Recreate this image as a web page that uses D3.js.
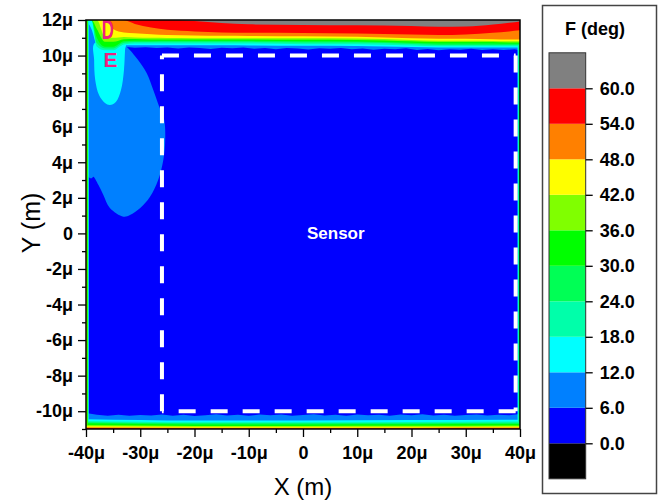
<!DOCTYPE html>
<html>
<head>
<meta charset="utf-8">
<script src="https://cdn.jsdelivr.net/npm/d3@7"></script>
<style>
  body { margin: 0; background: #fff; }
  text { font-family: "Liberation Sans", Arial, sans-serif; }
</style>
</head>
<body>
<div id="chart"></div>
<script>
// contour levels (deg) and band colours, lowest band first
var levels = [0, 6, 12, 18, 24, 30, 36, 42, 48, 54, 60];
var bandColors = ["#000000", "#0000ff", "#0080ff", "#00ffff", "#00ffaa", "#00ff55",
                  "#00ff00", "#80ff00", "#ffff00", "#ff8000", "#ff0000", "#808080"];

// top boundary layer: y (um) where the angle crosses each level
var topX  = [-40, -39, -38, -36.5, -35, -33, -31, -28, -25, -20, -15, -10, 0, 10, 20, 25, 30, 35, 38, 40];
var top12 = [12, 11.5, 10.6, 10.35, 10.3, 10.58, 10.58, 10.58, 10.58, 10.58, 10.58, 10.57, 10.55, 10.54, 10.48, 10.45, 10.45, 10.45, 10.45, 10.45];
var top18 = [12, 12, 10.5, 10.3, 10.3, 10.62, 10.68, 10.68, 10.68, 10.68, 10.68, 10.68, 10.64, 10.63, 10.57, 10.53, 10.53, 10.53, 10.53, 10.53];
var top24 = [12, 12, 10.7, 10.4, 10.4, 10.72, 10.76, 10.76, 10.77, 10.77, 10.77, 10.77, 10.74, 10.73, 10.65, 10.6, 10.6, 10.6, 10.6, 10.6];
var top30 = [12, 12, 11.0, 10.5, 10.5, 10.8, 10.84, 10.84, 10.84, 10.84, 10.84, 10.84, 10.8, 10.79, 10.72, 10.68, 10.68, 10.68, 10.66, 10.66];
var top36 = [12, 12, 11.5, 10.77, 10.77, 10.92, 10.93, 10.91, 10.91, 10.91, 10.91, 10.91, 10.89, 10.88, 10.8, 10.76, 10.76, 10.76, 10.74, 10.74];
var top42 = [12, 12, 12, 11.05, 11.0, 11.05, 11.02, 11.0, 10.99, 10.98, 10.97, 10.97, 10.97, 10.96, 10.88, 10.84, 10.83, 10.82, 10.8, 10.8];
var top48 = [12, 12, 12, 12, 11.5, 11.3, 11.25, 11.2, 11.16, 11.13, 11.11, 11.1, 11.08, 11.06, 10.98, 10.95, 10.94, 10.92, 10.9, 10.9];
var top54 = [12, 12, 12, 12, 12, 11.98, 11.78, 11.58, 11.45, 11.36, 11.3, 11.28, 11.27, 11.24, 11.18, 11.15, 11.18, 11.28, 11.36, 11.42];
var top60 = [12, 12, 12, 12, 12, 12, 12, 12, 12, 11.95, 11.83, 11.76, 11.72, 11.7, 11.66, 11.62, 11.64, 11.75, 11.85, 11.92];

// ragged 6 deg edge at the top
var edge6TopX = [-40, -33, -31, -29, -27, -25, -23, -21, -19, -17, -15, -13, -11, -9, -7, -5, -3, -1, 1, 3, 5, 7, 9, 11, 13, 15, 17, 19, 21, 23, 25, 27, 29, 31, 33, 35, 37, 39, 40];
var edge6Top  = [10.5, 10.5, 10.44, 10.47, 10.42, 10.46, 10.4, 10.45, 10.43, 10.37, 10.44, 10.41, 10.46, 10.38, 10.43, 10.36, 10.42, 10.4, 10.34, 10.41, 10.38, 10.43, 10.36, 10.4, 10.33, 10.39, 10.35, 10.41, 10.32, 10.37, 10.3, 10.36, 10.33, 10.38, 10.31, 10.36, 10.32, 10.35, 10.3];

// bottom boundary layer
var edge6BotX = [-40, -38, -36, -34, -32, -30, -28, -26, -24, -22, -20, -18, -16, -14, -12, -10, -8, -6, -4, -2, 0, 2, 4, 6, 8, 10, 12, 14, 16, 18, 20, 22, 24, 26, 28, 30, 32, 34, 36, 38, 40];
var edge6Bot  = [-10.1, -10.2, -10.25, -10.2, -10.26, -10.21, -10.24, -10.18, -10.25, -10.2, -10.27, -10.22, -10.17, -10.24, -10.2, -10.26, -10.19, -10.23, -10.18, -10.25, -10.21, -10.17, -10.24, -10.2, -10.26, -10.18, -10.23, -10.2, -10.25, -10.19, -10.22, -10.17, -10.24, -10.2, -10.26, -10.21, -10.18, -10.24, -10.2, -10.22, -10.15];
var botX  = [-40, -20, 0, 20, 40];
var bot12 = [-10.45, -10.52, -10.52, -10.5, -10.48];
var bot18 = [-10.55, -10.62, -10.62, -10.6, -10.58];
var bot24 = [-10.62, -10.68, -10.68, -10.67, -10.65];
var bot30 = [-10.68, -10.74, -10.74, -10.73, -10.72];
var bot36 = [-10.78, -10.83, -10.83, -10.82, -10.8];
var bot42 = [-10.85, -10.88, -10.88, -10.88, -10.86];
var bot48 = [-10.9, -10.93, -10.93, -10.93, -10.92];
var bot54 = [-10.94, -10.97, -10.97, -10.97, -10.96];

// plume on the left side: 6 deg and 12 deg outlines (x, y in um)
var plume6 = [[-39.6, 10.7], [-39.6, 3.2], [-38.95, 3.1], [-38.65, 3.19], [-37.7, 2.72], [-36.8, 2.16],
              [-35.6, 1.43], [-33.1, 0.94], [-31.9, 1.03], [-30.0, 1.43], [-28.2, 2.06], [-26.7, 3.0],
              [-25.75, 4.13], [-25.4, 5.25], [-25.6, 6.4], [-26.5, 7.12], [-27.6, 8.06], [-28.8, 9.0],
              [-30.4, 9.75], [-32.5, 10.5], [-33.5, 10.7]];
var plume12 = [[-38.4, 10.7], [-38.5, 9.75], [-38.3, 8.63], [-37.6, 7.78], [-36.5, 7.33], [-35.6, 7.22],
               [-34.5, 7.39], [-33.55, 8.06], [-33.0, 9.19], [-32.8, 10.31], [-32.7, 10.7]];

// thin stripes along the left and right walls
var leftEdgeLevels = [12, 18, 30, 36];
var leftEdgeX = [-39.5, -39.56, -39.64, -39.76];
var rightEdgeLevels = [12, 18, 24];
var rightEdgeX = [39.55, 39.65, 39.8];

// axes and annotations
var xTicks = [-40, -30, -20, -10, 0, 10, 20, 30, 40];
var yTicks = [-10, -8, -6, -4, -2, 0, 2, 4, 6, 8, 10, 12];
var sensorX = [-26, 39.2], sensorY = [-10, 10];
var labelD = [-36.0, 11.5], labelE = [-35.5, 9.8];

var topBounds = [top12, top18, top24, top30, top36, top42, top48, top54, top60];
var botBounds = [bot12, bot18, bot24, bot30, bot36, bot42, bot48, bot54];

var svg = d3.select("#chart").append("svg")
    .attr("width", 663).attr("height", 502);

var x = d3.scaleLinear().domain([-40, 40]).range([86, 520]);
var y = d3.scaleLinear().domain([-11, 12]).range([429, 20]);

svg.append("clipPath").attr("id", "plotClip")
  .append("rect")
    .attr("x", x(-40)).attr("y", y(12))
    .attr("width", x(40) - x(-40)).attr("height", y(-11) - y(12));

var plot = svg.append("g").attr("clip-path", "url(#plotClip)");

function colorAbove(lv) { return bandColors[levels.indexOf(lv) + 1]; }

var topArea = d3.area().x(function(d) { return x(d[0]); })
    .y0(y(12)).y1(function(d) { return y(d[1]); });
var botArea = d3.area().x(function(d) { return x(d[0]); })
    .y0(y(-11)).y1(function(d) { return y(d[1]); });
var outline = d3.line().x(function(d) { return x(d[0]); }).y(function(d) { return y(d[1]); })
    .curve(d3.curveCatmullRomClosed);

function zip(xs, ys) { return xs.map(function(v, i) { return [v, ys[i]]; }); }

// base band 0-6
plot.append("rect")
    .attr("x", x(-40)).attr("y", y(12))
    .attr("width", x(40) - x(-40)).attr("height", y(-11) - y(12))
    .attr("fill", colorAbove(0));

// 6 deg level
plot.append("path").datum(zip(edge6TopX, edge6Top))
    .attr("d", topArea.curve(d3.curveLinear)).attr("fill", colorAbove(6));
plot.append("path").datum(zip(edge6BotX, edge6Bot))
    .attr("d", botArea.curve(d3.curveLinear)).attr("fill", colorAbove(6));
plot.append("path").datum(plume6)
    .attr("d", outline).attr("fill", colorAbove(6));

// 12 .. 60 deg levels
levels.slice(2).forEach(function(lv, i) {
  var c = colorAbove(lv);
  if (lv === 12) {
    plot.append("path").datum(plume12).attr("d", outline).attr("fill", c);
  }
  plot.append("path").datum(zip(topX, topBounds[i]))
      .attr("d", topArea.curve(d3.curveMonotoneX)).attr("fill", c);
  if (botBounds[i]) {
    plot.append("path").datum(zip(botX, botBounds[i]))
        .attr("d", botArea.curve(d3.curveMonotoneX)).attr("fill", c);
  }
  var li = leftEdgeLevels.indexOf(lv);
  if (li >= 0) {
    plot.append("rect")
        .attr("x", x(-40)).attr("width", x(leftEdgeX[li]) - x(-40))
        .attr("y", y(12)).attr("height", y(-11) - y(12)).attr("fill", c);
  }
  var ri = rightEdgeLevels.indexOf(lv);
  if (ri >= 0) {
    plot.append("rect")
        .attr("x", x(rightEdgeX[ri])).attr("width", x(40) - x(rightEdgeX[ri]))
        .attr("y", y(12)).attr("height", y(-11) - y(12)).attr("fill", c);
  }
});

// sensor outline, each side starts with a dash at a corner
var sx0 = x(sensorX[0]), sx1 = x(sensorX[1]), sy0 = y(sensorY[1]), sy1 = y(sensorY[0]);
var sides = [[sx0, sy0, sx1, sy0], [sx1, sy0, sx1, sy1], [sx1, sy1, sx0, sy1], [sx0, sy1, sx0, sy0]];
svg.selectAll(".sensor").data(sides).enter().append("line")
    .attr("x1", function(d) { return d[0]; }).attr("y1", function(d) { return d[1]; })
    .attr("x2", function(d) { return d[2]; }).attr("y2", function(d) { return d[3]; })
    .attr("stroke", "#fff").attr("stroke-width", 4)
    .attr("stroke-dasharray", "17,15");

svg.append("text")
    .attr("x", (sx0 + sx1) / 2 - 3).attr("y", y(0) + 6)
    .attr("text-anchor", "middle").attr("fill", "#fff")
    .style("font-size", "17px").style("font-weight", "bold")
    .text("Sensor");

// D and E markers
svg.append("text")
    .attr("transform", "translate(" + x(labelD[0]) + "," + (y(labelD[1]) + 9.7) + ") scale(0.62,1)")
    .attr("text-anchor", "middle").attr("fill", "#f0207e")
    .style("font-size", "27px").style("font-weight", "bold")
    .text("D");
svg.append("text")
    .attr("x", x(labelE[0])).attr("y", y(labelE[1]) + 7.5)
    .attr("text-anchor", "middle").attr("fill", "#f0207e")
    .style("font-size", "21px").style("font-weight", "bold")
    .text("E");

// plot frame
svg.append("rect")
    .attr("x", x(-40)).attr("y", y(12))
    .attr("width", x(40) - x(-40)).attr("height", y(-11) - y(12))
    .attr("fill", "none").attr("stroke", "#000").attr("stroke-width", 1.5);

function um(d) { return d === 0 ? "0" : d + "\u03bc"; }

// x axis
svg.append("g").attr("transform", "translate(0," + y(-11) + ")")
    .call(d3.axisBottom(x).tickValues(xTicks).tickFormat(um).tickSize(8).tickPadding(9));
svg.append("g").attr("transform", "translate(0," + y(-11) + ")")
    .call(d3.axisBottom(x).tickValues(xTicks.slice(1).map(function(d) { return d - 5; }))
      .tickFormat("").tickSize(4));

// y axis
svg.append("g").attr("transform", "translate(" + x(-40) + ",0)")
    .call(d3.axisLeft(y).tickValues(yTicks).tickFormat(um).tickSize(8).tickPadding(5));
svg.append("g").attr("transform", "translate(" + x(-40) + ",0)")
    .call(d3.axisLeft(y).tickValues(yTicks.map(function(d) { return d - 1; }))
      .tickFormat("").tickSize(4));

svg.selectAll(".domain").remove();
svg.selectAll(".tick line").attr("stroke", "#000").attr("stroke-width", 1.3);
svg.selectAll(".tick text")
    .attr("fill", "#000")
    .style("font-size", "18px").style("font-weight", "bold")
    .style("font-family", "'Liberation Sans', Arial, sans-serif");

svg.append("text")
    .attr("x", x(0)).attr("y", 495)
    .attr("text-anchor", "middle")
    .style("font-size", "24px")
    .text("X (m)");
svg.append("text")
    .attr("transform", "translate(40,223) rotate(-90)")
    .attr("text-anchor", "middle")
    .style("font-size", "25px")
    .text("Y (m)");

// legend
var legend = svg.append("g");
legend.append("rect")
    .attr("x", 542.5).attr("y", 5.5).attr("width", 114).attr("height", 488)
    .attr("fill", "#fff").attr("stroke", "#444").attr("stroke-width", 1.5);
legend.append("text")
    .attr("x", 565).attr("y", 35)
    .style("font-size", "18px").style("font-weight", "bold")
    .text("F (deg)");

var ly = d3.scaleLinear().domain([-6, 66]).range([478.8, 52.8]);
var bands = bandColors.map(function(c, k) {
  return { lo: k === 0 ? -6 : levels[k - 1], hi: k === levels.length ? 66 : levels[k], color: c };
});
legend.selectAll(".band").data(bands).enter().append("rect")
    .attr("x", 549).attr("width", 36.7)
    .attr("y", function(d) { return ly(d.hi); })
    .attr("height", function(d) { return ly(d.lo) - ly(d.hi); })
    .attr("fill", function(d) { return d.color; });
legend.append("rect")
    .attr("x", 549).attr("y", ly(66)).attr("width", 36.7).attr("height", ly(-6) - ly(66))
    .attr("fill", "none").attr("stroke", "#333").attr("stroke-width", 1);

var lAxis = legend.append("g").attr("transform", "translate(585.7,0)")
    .call(d3.axisRight(ly).tickValues(levels).tickFormat(d3.format(".1f")).tickSize(7).tickPadding(7));
lAxis.select(".domain").remove();
lAxis.selectAll(".tick line").attr("stroke", "#000").attr("stroke-width", 1.3);
lAxis.selectAll(".tick text")
    .attr("fill", "#000")
    .style("font-size", "18px").style("font-weight", "bold")
    .style("font-family", "'Liberation Sans', Arial, sans-serif");
</script>
</body>
</html>
